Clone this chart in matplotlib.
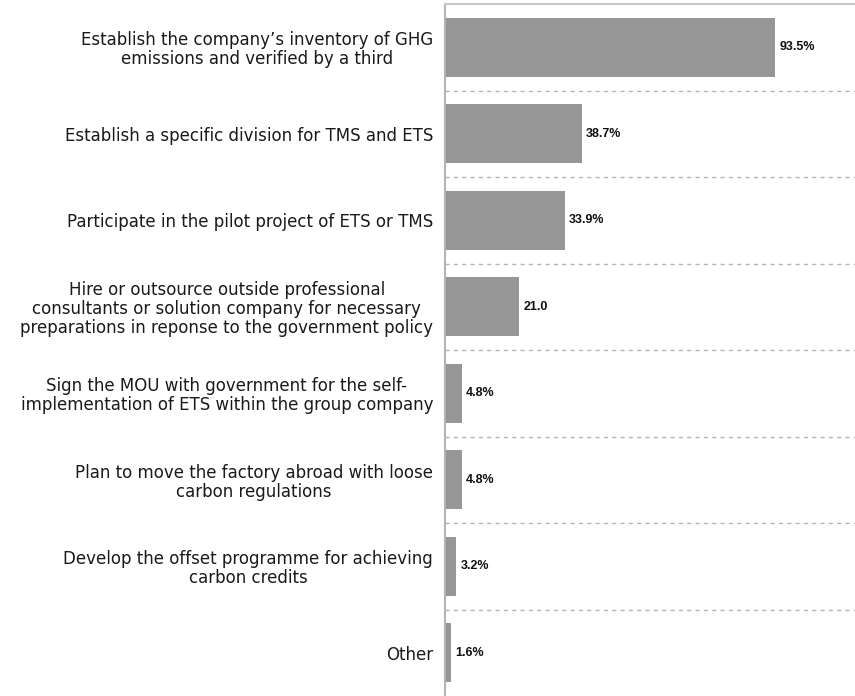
import matplotlib.pyplot as plt
import numpy as np

categories = [
    "Establish the company\u2019s inventory of GHG\nemissions and verified by a third",
    "Establish a specific division for TMS and ETS",
    "Participate in the pilot project of ETS or TMS",
    "Hire or outsource outside professional\nconsultants or solution company for necessary\npreparations in reponse to the government policy",
    "Sign the MOU with government for the self-\nimplementation of ETS within the group company",
    "Plan to move the factory abroad with loose\ncarbon regulations",
    "Develop the offset programme for achieving\ncarbon credits",
    "Other",
]
values = [93.5, 38.7, 33.9, 21.0, 4.8, 4.8, 3.2, 1.6]
value_labels = ["93.5%", "38.7%", "33.9%", "21.0", "4.8%", "4.8%", "3.2%", "1.6%"]

fig = plt.figure(figsize=(8.55, 6.96), dpi=100)
ax = fig.add_axes([445 / 855, 0, 410 / 855, 692 / 696])

y = np.arange(len(categories))
ax.barh(y, values, height=0.68, color="#969696", edgecolor="none")

ax.set_xlim(0, 116.1)
ax.set_ylim(len(categories) - 0.5, -0.5)

# dashed separators between the categories
for b in y[:-1] + 0.5:
    ax.axhline(b, color="#b4b4b4", lw=1, ls=(0, (3, 3)))

for yi, v, lab in zip(y, values, value_labels):
    ax.annotate(lab, (v, yi), xytext=(3, 0), textcoords="offset points",
                va="center", ha="left", fontsize=9, fontweight="bold",
                family="Liberation Sans", color="#111111")

ax.set_yticks(y)
ax.set_yticklabels(categories, fontsize=12, family="DejaVu Sans",
                   multialignment="center", linespacing=1.06, color="#1a1a1a")
ax.tick_params(axis="y", length=0, pad=8.5)
ax.set_xticks([])

for side in ["right", "bottom"]:
    ax.spines[side].set_visible(False)
ax.spines["left"].set_color("#b4b4b4")
ax.spines["top"].set_color("#c8c8c8")
ax.spines["left"].set_linewidth(1.5)
ax.spines["top"].set_linewidth(1.5)

fig.savefig("out.png", dpi=100)
